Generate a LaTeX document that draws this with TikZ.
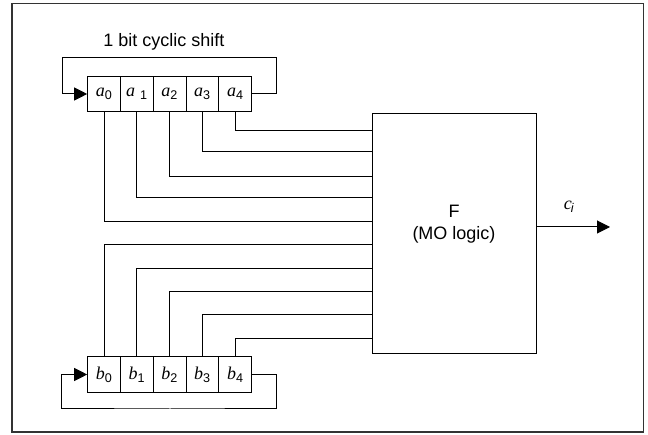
\documentclass[tikz,border=0pt]{standalone}
\usepackage{fontspec}
\setmainfont{Liberation Sans}
\newfontfamily\regfont{Liberation Serif}
\usetikzlibrary{arrows.meta, positioning, calc}

\newcommand{\regbit}[3][]{{\regfont\itshape #2}#1\textsubscript{#3}}

\begin{document}
\begin{tikzpicture}[
  x=1pt, y=-1pt,
  font=\fontsize{18}{22}\selectfont,
  wire/.style={line width=1pt},
  cell/.style={draw, line width=1pt, minimum width=32.8pt, minimum height=35.6pt,
               inner sep=0pt},
  fbox/.style={draw, line width=1pt, minimum width=164pt, minimum height=240pt,
               inner sep=0pt},
  ar/.style={wire, -{Triangle[length=13pt, width=13pt]}}
]
\useasboundingbox (0,0) rectangle (648,435);
\draw[black!80, line width=1.2pt] (12,3.5) rectangle (643.5,432);

% ================= registers =================
\node (title) at (164,42) {1 bit cyclic shift};

\node[cell] (a0) at (104.1,94) {\regbit{a}{0}};
\node[cell] (a1) at (136.9,94) {\regbit[\ ]{a}{1}};
\node[cell] (a2) at (169.7,94) {\regbit{a}{2}};
\node[cell] (a3) at (202.5,94) {\regbit{a}{3}};
\node[cell] (a4) at (235.3,94) {\regbit{a}{4}};

\foreach \i in {0,...,4}
  {\node[cell] (b\i) at (104.1+\i*32.8,374.5) {\regbit{b}{\i}};}

% --- cyclic shift loops ---
\coordinate (looptop) at (170,57.7);
\coordinate (loopbot) at (170,409);
\draw[ar] (a4.east) -- ++(24.3,0) |- (looptop) -| ([xshift=-24.7pt]a0.west) -- (a0.west);
\draw[ar] (b4.east) -- ++(24.3,0) |- (loopbot) -| ([xshift=-25.4pt]b0.west) -- (b0.west);

% ================= F block =================
\node[fbox] (F) at (454,234) {};
\node[align=center] (Ftxt) at (454,224) {F\\(MO logic)};

\foreach \i/\y in {0/222,1/198,2/177,3/152,4/131}
  {\coordinate (ina\i) at (F.west |- 0,\y);
   \draw[wire] (a\i.south) |- (ina\i);}
\foreach \i/\y in {0/245,1/269,2/292,3/315,4/339}
  {\coordinate (inb\i) at (F.west |- 0,\y);
   \draw[wire] (b\i.north) |- (inb\i);}

% --- output ---
\coordinate (cout) at (610,227);
\draw[ar] (F.east |- cout) -- (cout);
\node (ci) at (569,207) {\regbit{c}{\kern-1pt\itshape i}};

\end{tikzpicture}
\end{document}
